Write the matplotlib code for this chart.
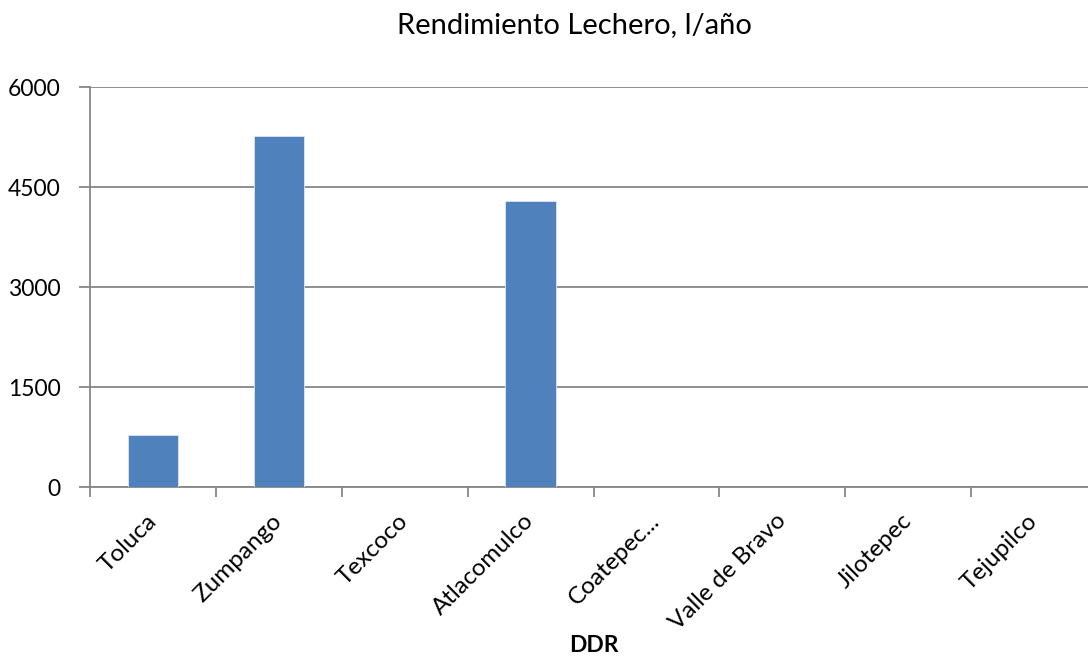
import matplotlib.pyplot as plt
import numpy as np

plt.rcParams["font.family"] = ["Lato", "DejaVu Sans"]

categories = ["Toluca", "Zumpango", "Texcoco", "Atlacomulco", "Coatepec...",
              "Valle de Bravo", "Jilotepec", "Tejupilco"]
rendimiento = [775, 5265, 0, 4285, 0, 0, 0, 0]
y_ticks = [0, 1500, 3000, 4500, 6000]

fig = plt.figure(figsize=(10.88, 6.58), dpi=100)
ax = fig.add_axes([90 / 1088, 1 - 487 / 658, 1007 / 1088, 400 / 658])

x = np.arange(len(categories))
ax.bar(x, rendimiento, width=0.4, color="#4F81BD", edgecolor="#dce6f2", linewidth=0.6, zorder=3)

ax.set_xlim(-0.5, len(categories) - 0.5)
ax.set_ylim(0, 6000)
ax.set_yticks(y_ticks)
ax.set_yticklabels([str(v) for v in y_ticks], fontsize=16.5)
ax.yaxis.grid(True, color="#868686", linewidth=1.3, zorder=0)

ax.set_xticks(x)
ax.set_xticklabels(categories, rotation=45, ha="right", va="center",
                   rotation_mode="anchor", fontsize=17.5)
ax.set_xticks(np.arange(len(categories) + 1) - 0.5, minor=True)
ax.tick_params(axis="x", which="major", length=0, pad=22)
ax.tick_params(axis="x", which="minor", length=7, color="#868686", width=1.3)
ax.tick_params(axis="y", length=8, color="#868686", width=1.3, pad=13)

for side in ["top", "right"]:
    ax.spines[side].set_visible(False)
for side in ["left", "bottom"]:
    ax.spines[side].set_color("#868686")
    ax.spines[side].set_linewidth(1.3)

fig.text(574 / 1088, 1 - 25 / 658, "Rendimiento Lechero, l/año", fontsize=21,
         ha="center", va="center")
fig.text(594 / 1088, 1 - 645 / 658, "DDR", fontsize=16.5, fontweight="bold",
         ha="center", va="center")

fig.savefig("out.png", dpi=100)
